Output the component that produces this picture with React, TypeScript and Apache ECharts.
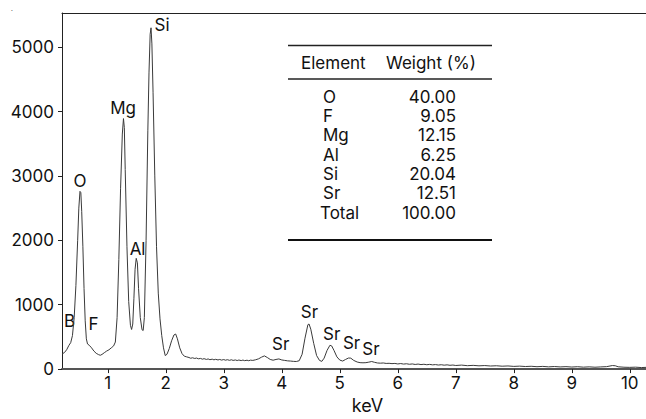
import React, { useEffect, useRef } from "react";
import * as echarts from "echarts";

const FONT = "Inter, 'Liberation Sans', Arial, sans-serif";

// Axis ticks
const X_TICKS = [1, 2, 3, 4, 5, 6, 7, 8, 9, 10];
const Y_TICKS = [0, 1000, 2000, 3000, 4000, 5000];

// EDS spectrum: [keV, counts]
const SPECTRUM: [number, number][] = [
  [0.21, 235], [0.25, 255], [0.29, 300], [0.33, 370], [0.36, 410], [0.39, 520],
  [0.42, 800], [0.45, 1300], [0.48, 2000], [0.50, 2500], [0.52, 2760], [0.535, 2740],
  [0.55, 2450], [0.57, 1900], [0.59, 1250], [0.61, 750], [0.63, 470], [0.65, 390],
  [0.68, 370], [0.72, 330], [0.76, 280], [0.80, 245], [0.84, 225], [0.87, 215],
  [0.90, 228], [0.94, 255], [0.98, 280], [1.02, 300], [1.06, 330], [1.10, 360],
  [1.13, 420], [1.16, 800], [1.19, 1700], [1.22, 2800], [1.25, 3650], [1.27, 3890],
  [1.285, 3750], [1.30, 3100], [1.33, 1900], [1.36, 1050], [1.39, 680], [1.41, 615],
  [1.43, 700], [1.45, 1100], [1.47, 1550], [1.49, 1720], [1.51, 1650], [1.53, 1250],
  [1.56, 800], [1.59, 610], [1.61, 600], [1.63, 800], [1.66, 2000], [1.69, 3700],
  [1.71, 4600], [1.73, 5200], [1.745, 5300], [1.76, 5050], [1.78, 4300], [1.81, 3000],
  [1.84, 1900], [1.87, 1180], [1.90, 780], [1.93, 520], [1.96, 330], [1.99, 210],
  [2.02, 230], [2.06, 320], [2.10, 440], [2.14, 530], [2.17, 545], [2.20, 470],
  [2.24, 330], [2.28, 240], [2.32, 200], [2.36, 190],
  [2.40, 180], [2.43, 168], [2.46, 176], [2.50, 165], [2.53, 172], [2.56, 160],
  [2.60, 166], [2.63, 154], [2.66, 162], [2.70, 150], [2.73, 158], [2.76, 146],
  [2.80, 154], [2.83, 144], [2.86, 152], [2.90, 142], [2.93, 150], [2.96, 140],
  [3.00, 148], [3.03, 138], [3.06, 146], [3.10, 136], [3.13, 145], [3.16, 135],
  [3.20, 142], [3.23, 133], [3.26, 141], [3.30, 132], [3.33, 140], [3.36, 131],
  [3.40, 138], [3.43, 130], [3.46, 139], [3.50, 135], [3.55, 145],
  [3.60, 160], [3.65, 185], [3.70, 205], [3.75, 180], [3.80, 150], [3.85, 138],
  [3.90, 150], [3.95, 158], [4.00, 142], [4.05, 135], [4.10, 128], [4.15, 125],
  [4.20, 120], [4.25, 118], [4.30, 130], [4.35, 230], [4.40, 480], [4.45, 690],
  [4.47, 700], [4.50, 620], [4.55, 400], [4.60, 210], [4.65, 135], [4.69, 120],
  [4.73, 170], [4.78, 290], [4.83, 370], [4.86, 360], [4.90, 290], [4.95, 190],
  [5.00, 140], [5.05, 125], [5.10, 150], [5.15, 172], [5.19, 170], [5.24, 135],
  [5.30, 110], [5.35, 100], [5.40, 98], [5.45, 100], [5.50, 108], [5.55, 118],
  [5.60, 105], [5.65, 95], [5.70, 92], [5.75, 95], [5.80, 88], [5.85, 90],
  [5.90, 85], [5.95, 88], [6.00, 80], [6.05, 86], [6.10, 78], [6.15, 83],
  [6.20, 75], [6.25, 80], [6.30, 72], [6.35, 78], [6.40, 70], [6.45, 75],
  [6.50, 68], [6.55, 73], [6.60, 66], [6.65, 70], [6.70, 63], [6.75, 68],
  [6.80, 61], [6.85, 66], [6.90, 59], [6.95, 63],
  [7.00, 56], [7.10, 62], [7.20, 53], [7.30, 58], [7.40, 51], [7.50, 55],
  [7.60, 48], [7.70, 52], [7.80, 45], [7.90, 49], [8.00, 42], [8.10, 46],
  [8.20, 40], [8.30, 44], [8.40, 37], [8.50, 42], [8.60, 35], [8.70, 40],
  [8.80, 34], [8.90, 38], [9.00, 32], [9.10, 37], [9.20, 30], [9.30, 35],
  [9.40, 29], [9.50, 34], [9.60, 38], [9.70, 55], [9.75, 52], [9.80, 36],
  [9.90, 29], [10.00, 27], [10.10, 30], [10.20, 24], [10.28, 27],
];

// Peak labels: name, keV, counts (label centre)
const PEAK_NAMES = ["Si", "Mg", "O", "Al", "B", "F", "Sr", "Sr", "Sr", "Sr", "Sr"];
const PEAK_KEV = [1.935, 1.263, 0.522, 1.513, 0.341, 0.755, 3.981, 4.477, 4.86, 5.204, 5.537];
const PEAK_COUNTS = [5346, 4058, 2920, 1860, 753, 708, 394, 879, 549, 412, 306];

// Composition table
const TABLE_HEADERS = ["Element", "Weight (%)"];
const TABLE_ELEMENTS = ["O", "F", "Mg", "Al", "Si", "Sr", "Total"];
const TABLE_WEIGHTS = ["40.00", "9.05", "12.15", "6.25", "20.04", "12.51", "100.00"];

export default function App() {
  const ref = useRef<HTMLDivElement>(null);

  useEffect(() => {
    if (!ref.current) return;
    const chart = echarts.init(ref.current, undefined, { renderer: "svg" });

    const txt = (text: string, x: number, y: number, align: string) => ({
      type: "text",
      x,
      y,
      style: { text, fontSize: 17, fontFamily: FONT, fill: "#111", textAlign: align, textVerticalAlign: "middle" },
    });

    const tableGraphics: any[] = [
      { type: "line", shape: { x1: 288, y1: 45.5, x2: 492, y2: 45.5 }, style: { stroke: "#222", lineWidth: 1.5 } },
      { type: "line", shape: { x1: 288, y1: 79, x2: 492, y2: 79 }, style: { stroke: "#222", lineWidth: 1.5 } },
      { type: "line", shape: { x1: 288, y1: 240, x2: 492, y2: 240 }, style: { stroke: "#111", lineWidth: 2 } },
      txt(TABLE_HEADERS[0], 301, 63, "left"),
      txt(TABLE_HEADERS[1], 386, 63, "left"),
    ];
    TABLE_ELEMENTS.forEach((el, i) => {
      const y = 96.7 + i * 19.33;
      tableGraphics.push(txt(el, el === "Total" ? 320 : 323, y, "left"));
      tableGraphics.push(txt(TABLE_WEIGHTS[i], 456, y, "right"));
    });
    tableGraphics.push({
      type: "text", x: 12, y: 4,
      style: { text: ".", fontSize: 8, fontFamily: FONT, fill: "#666", textAlign: "center" },
    });

    const option: any = {
      animation: false,
      textStyle: { fontFamily: FONT },
      grid: { left: 62, top: 13, right: 0, bottom: 41, containLabel: false },
      xAxis: [
        {
          type: "value",
          min: 0.21,
          max: 10.28,
          name: "keV",
          nameLocation: "middle",
          nameGap: 24,
          nameTextStyle: { fontSize: 18, color: "#111", fontFamily: FONT, padding: [0, 0, 0, 27] },
          axisLine: { show: true, onZero: false, lineStyle: { color: "#555", width: 2 } },
          axisTick: { show: true, length: 4, inside: false, customValues: X_TICKS, lineStyle: { color: "#222" } },
          axisLabel: { customValues: X_TICKS, fontSize: 17, color: "#111", margin: 5, fontFamily: FONT, formatter: (v: number) => String(v) },
          splitLine: { show: false },
        },
        {
          type: "value",
          position: "top",
          min: 0.21,
          max: 10.28,
          axisLine: { show: true, onZero: false, lineStyle: { color: "#222", width: 1 } },
          axisTick: { show: false },
          axisLabel: { show: false },
          splitLine: { show: false },
        },
      ],
      yAxis: {
        type: "value",
        min: 0,
        max: 5530,
        axisLine: { show: true, onZero: false, lineStyle: { color: "#222", width: 1 } },
        axisTick: { show: true, length: 4, inside: false, customValues: Y_TICKS, lineStyle: { color: "#222" } },
        axisLabel: { customValues: Y_TICKS, fontSize: 17, color: "#111", margin: 8, fontFamily: FONT, formatter: (v: number) => String(v) },
        splitLine: { show: false },
      },
      series: [
        {
          type: "line",
          data: SPECTRUM,
          showSymbol: false,
          symbol: "none",
          lineStyle: { color: "#3a3a3a", width: 1 },
          silent: true,
        },
        {
          type: "scatter",
          data: PEAK_NAMES.map((n, i) => ({ name: n, value: [PEAK_KEV[i], PEAK_COUNTS[i]] })),
          symbolSize: 1,
          itemStyle: { color: "rgba(0,0,0,0)" },
          label: {
            show: true,
            position: "inside",
            formatter: "{b}",
            fontSize: 17,
            color: "#111",
            fontFamily: FONT,
            textBorderWidth: 0,
            textBorderColor: "transparent",
            opacity: 1,
          },
          silent: true,
        },
      ],
      graphic: tableGraphics,
    };

    chart.setOption(option);
    return () => chart.dispose();
  }, []);

  return <div ref={ref} style={{ width: 646, height: 419, position: "absolute", left: 0, top: 0, background: "#fff" }} />;
}
